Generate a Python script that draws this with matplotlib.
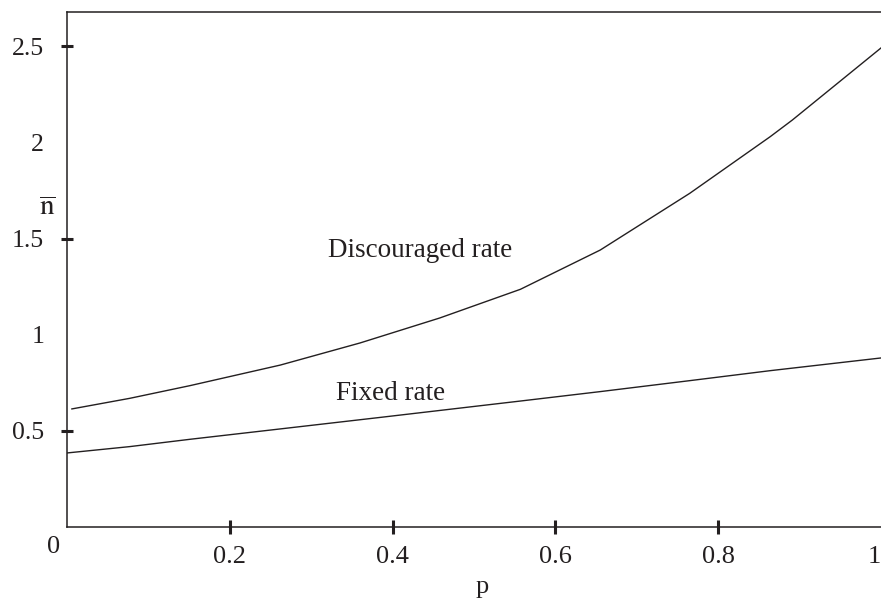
import matplotlib
matplotlib.use("Agg")
from matplotlib import pyplot as plt

# values
p_discouraged = [0.006, 0.077, 0.151, 0.262, 0.360, 0.458, 0.557, 0.655, 0.765, 0.864, 0.891, 1.0]
n_discouraged = [0.614, 0.669, 0.735, 0.842, 0.957, 1.087, 1.236, 1.440, 1.735, 2.030, 2.116, 2.491]

p_fixed = [0.0, 0.077, 0.151, 0.262, 0.385, 0.557, 0.655, 0.765, 0.864, 1.0]
n_fixed = [0.385, 0.418, 0.456, 0.510, 0.570, 0.655, 0.704, 0.761, 0.813, 0.879]

x_ticks = [0.2, 0.4, 0.6, 0.8, 1.0]
x_tick_labels = ['0.2', '0.4', '0.6', '0.8', '1']
y_ticks = [0.5, 1.0, 1.5, 2.0, 2.5]
y_tick_labels = ['0.5', '1', '1.5', '2', '2.5']

INK = '#231f20'

plt.rcParams['font.family'] = ['Liberation Serif', 'DejaVu Serif']
plt.rcParams['mathtext.fontset'] = 'stix'


def main() -> None:
    fig = plt.figure(figsize=(8.81, 5.98), dpi=100)
    ax = fig.add_axes([67 / 881, 71 / 598, 814 / 881, 515 / 598])

    ax.plot(p_discouraged, n_discouraged, color=INK, linewidth=1.0)
    ax.plot(p_fixed, n_fixed, color=INK, linewidth=1.0)

    ax.set_xlim(0, 1)
    ax.set_ylim(0, 2.678)

    for side in ('left', 'top', 'bottom'):
        ax.spines[side].set_color(INK)
        ax.spines[side].set_linewidth(1.1)
    ax.spines['right'].set_visible(False)

    ax.set_xticks(x_ticks)
    ax.set_xticklabels(x_tick_labels)
    ax.set_yticks(y_ticks)
    ax.set_yticklabels(y_tick_labels)
    ax.tick_params(axis='x', direction='inout', length=10, width=2.2, color=INK,
                   labelsize=19, pad=9, labelcolor=INK)
    ax.tick_params(axis='y', direction='inout', length=9, width=2.2, color=INK,
                   labelsize=18.5, pad=12, labelcolor=INK)

    # labelled values without a tick mark
    ax.xaxis.get_major_ticks()[-1].tick1line.set_visible(False)
    ax.get_xticklabels()[-1].set_ha('right')
    for i in (1, 3):
        ax.yaxis.get_major_ticks()[i].tick1line.set_visible(False)

    ax.annotate('0', xy=(0, 0), xycoords='axes fraction', xytext=(-13, -20),
                textcoords='offset pixels', ha='center', va='center',
                fontsize=19, color=INK)

    ax.set_xlabel('p', fontsize=19, color=INK)
    ax.xaxis.set_label_coords(0.51, -0.095)
    ax.set_ylabel(r'$\overline{\mathrm{n}}$', fontsize=21, color=INK, rotation=0,
                  ha='center', va='center')
    ax.yaxis.set_label_coords(-0.0246, 0.618)

    ax.text(0.434, 1.402, 'Discouraged rate', fontsize=19.5, color=INK,
            ha='center', va='baseline')
    ax.text(0.397, 0.660, 'Fixed rate', fontsize=19.5, color=INK,
            ha='center', va='baseline')

    fig.savefig('out.png', dpi=100)


if __name__ == '__main__':
    main()
